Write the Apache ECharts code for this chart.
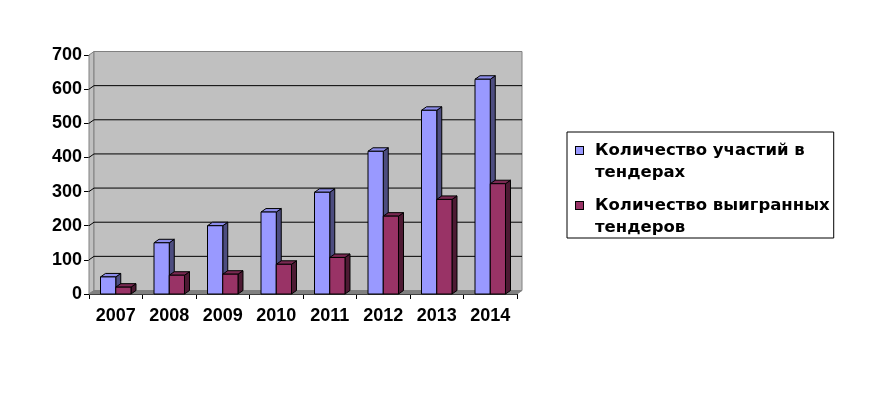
<!DOCTYPE html>
<html>
<head>
<meta charset="utf-8">
<script src="https://cdn.jsdelivr.net/npm/echarts@6/dist/echarts.min.js"></script>
<style>html,body{margin:0;padding:0;background:#fff;}#c{width:881px;height:394px;}</style>
</head>
<body>
<div id="c"></div>
<script>
const categories = ['2007', '2008', '2009', '2010', '2011', '2012', '2013', '2014'];
const participations = [50, 150, 200, 240, 298, 418, 538, 629];
const wins = [20, 55, 58, 87, 107, 228, 277, 323];
const seriesNames = ['Количество участий в тендерах', 'Количество выигранных тендеров'];
const yTicks = [0, 100, 200, 300, 400, 500, 600, 700];

const FONT = '"Liberation Sans", Arial, sans-serif';
const LEGEND_FONT = '"DejaVu Sans", "Liberation Sans", sans-serif';
const DX = 5, DY = -3.5;
const palette = [
  { front: '#9999FF', side: '#4D4D80', top: '#8C8CEA' },
  { front: '#993366', side: '#4D1A33', top: '#7A2952' }
];

function barRender(si) {
  return function (params, api) {
    const i = api.value(0), v = api.value(1);
    const base = api.coord([i, 0]);
    const top = api.coord([i, v]);
    const bw = api.size([1, 0])[0];
    const w = bw * 0.285;
    const x0 = si === 0 ? base[0] - w : base[0];
    const x1 = x0 + w;
    const y0 = base[1], y1 = top[1];
    const st = { stroke: '#000', lineWidth: 1 };
    const c = palette[si];
    return {
      type: 'group',
      children: [
        { type: 'polygon', shape: { points: [[x1, y1], [x1 + DX, y1 + DY], [x1 + DX, y0 + DY], [x1, y0]] }, style: Object.assign({ fill: c.side }, st) },
        { type: 'polygon', shape: { points: [[x0, y1], [x0 + DX, y1 + DY], [x1 + DX, y1 + DY], [x1, y1]] }, style: Object.assign({ fill: c.top }, st) },
        { type: 'rect', shape: { x: x0, y: y1, width: w, height: y0 - y1 }, style: Object.assign({ fill: c.front }, st) }
      ]
    };
  };
}

function wallRender(params, api) {
  const bw = api.size([1, 0])[0];
  const last = categories.length - 1;
  const yMax = yTicks[yTicks.length - 1];
  const x0 = api.coord([0, 0])[0] - bw / 2;
  const x1 = api.coord([last, 0])[0] + bw / 2;
  const yb = api.coord([0, 0])[1];
  const yt = api.coord([0, yMax])[1];
  const children = [
    { type: 'polygon', shape: { points: [[x0, yt], [x0 + DX, yt + DY], [x0 + DX, yb + DY], [x0, yb]] }, style: { fill: '#C0C0C0', stroke: '#808080', lineWidth: 1 } },
    { type: 'rect', shape: { x: x0 + DX, y: yt + DY, width: x1 - x0, height: yb - yt }, style: { fill: '#C0C0C0', stroke: '#808080', lineWidth: 1 } },
    { type: 'polygon', shape: { points: [[x0, yb], [x0 + DX, yb + DY], [x1 + DX, yb + DY], [x1, yb]] }, style: { fill: '#808080', stroke: '#808080', lineWidth: 1 } }
  ];
  yTicks.forEach(function (t) {
    if (t === 0 || t === yMax) return;
    const y = api.coord([0, t])[1];
    children.push({ type: 'polyline', shape: { points: [[x0, y], [x0 + DX, y + DY], [x1 + DX, y + DY]] }, style: { stroke: '#000', lineWidth: 1, fill: null } });
  });
  return { type: 'group', children: children };
}

const chart = echarts.init(document.getElementById('c'), null, { renderer: 'canvas' });
chart.setOption({
  animation: false,
  backgroundColor: '#fff',
  grid: { left: 89, right: 364, top: 55, bottom: 100, containLabel: false },
  xAxis: {
    type: 'category',
    data: categories,
    boundaryGap: true,
    axisLine: { show: true, lineStyle: { color: '#000', width: 1 } },
    axisTick: { show: true, length: 5, lineStyle: { color: '#000' } },
    axisLabel: { margin: 13, color: '#000', fontSize: 18, fontWeight: 'bold', fontFamily: FONT },
    splitLine: { show: false }
  },
  yAxis: {
    type: 'value',
    min: 0, max: 700, interval: 100,
    axisLine: { show: true, lineStyle: { color: '#808080', width: 1 } },
    axisTick: { show: true, length: 5, lineStyle: { color: '#000' } },
    axisLabel: { margin: 7, color: '#000', fontSize: 18, fontWeight: 'bold', fontFamily: FONT },
    splitLine: { show: false }
  },
  legend: {
    data: seriesNames,
    orient: 'vertical',
    left: 567, top: 132,
    itemWidth: 0, itemHeight: 0,
    itemGap: 16,
    padding: [10, 4, 2, 4],
    borderColor: '#000', borderWidth: 1,
    backgroundColor: '#fff',
    selectedMode: false,
    formatter: function (name) {
      const idx = seriesNames.indexOf(name);
      const k = name.lastIndexOf(' ');
      return '{sq' + idx + '|}{gap|}{t|' + name.slice(0, k) + '}\n{sp|}{t|' + name.slice(k + 1) + '}';
    },
    textStyle: {
      rich: {
        sq0: { width: 7, height: 7, backgroundColor: palette[0].front, borderColor: '#000', borderWidth: 1 },
        sq1: { width: 7, height: 7, backgroundColor: palette[1].front, borderColor: '#000', borderWidth: 1 },
        gap: { width: 12 },
        sp: { width: 19 },
        t: { fontSize: 16.5, fontWeight: 'bold', fontFamily: LEGEND_FONT, color: '#000', lineHeight: 22 }
      }
    }
  },
  series: [
    { type: 'custom', name: 'wall', renderItem: wallRender, data: [[0, 0]], silent: true, z: 1 },
    { type: 'custom', name: seriesNames[0], renderItem: barRender(0), itemStyle: { color: palette[0].front },
      encode: { x: 0, y: 1 }, data: participations.map(function (v, i) { return [i, v]; }), z: 2 },
    { type: 'custom', name: seriesNames[1], renderItem: barRender(1), itemStyle: { color: palette[1].front },
      encode: { x: 0, y: 1 }, data: wins.map(function (v, i) { return [i, v]; }), z: 3 }
  ]
});
</script>
</body>
</html>
